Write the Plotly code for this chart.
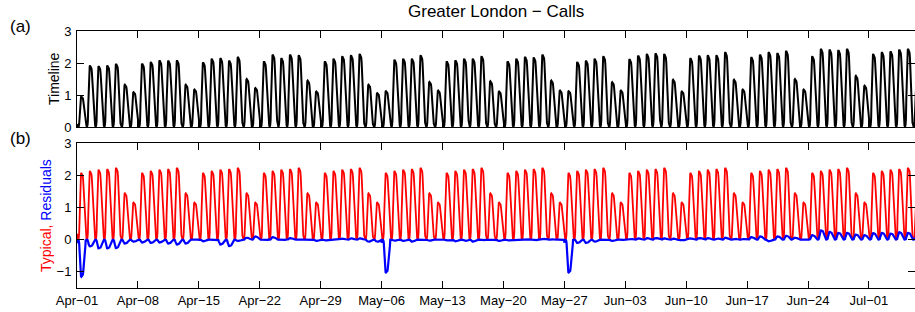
import numpy as np
import pandas as pd
import plotly.graph_objects as go

W, H = 915, 312

START = "2013-04-01"
X_END = "2013-07-06 07:00"

# fraction of the daily peak, hour 0..23
HOURLY_PROFILE = [0.09, 0.04, 0.02, 0.01, 0.01, 0.03, 0.10, 0.35, 0.65, 0.86, 0.96, 0.99,
                  1.00, 0.99, 0.99, 0.98, 0.95, 0.89, 0.80, 0.68, 0.55, 0.42, 0.30, 0.18]

# daily peak of the "Timeline" series, Apr-01 .. Jul-06
TIMELINE_PEAK = [
    0.95, 1.92, 1.90, 1.92, 1.97, 1.32, 1.09,
    1.98, 2.03, 2.08, 2.07, 2.08, 1.32, 1.17,
    2.02, 2.13, 2.15, 2.07, 2.19, 1.50, 1.22,
    2.05, 2.26, 2.15, 2.26, 2.24, 1.45, 1.11,
    2.05, 2.13, 2.21, 2.24, 2.28, 1.32, 1.06,
    1.12, 2.10, 2.13, 2.13, 2.24, 1.41, 1.14,
    2.05, 2.08, 2.13, 2.13, 2.21, 1.43, 1.11,
    2.05, 2.13, 2.19, 2.17, 2.26, 1.45, 1.14,
    1.12, 2.03, 2.07, 2.13, 2.21, 1.40, 1.14,
    2.12, 2.23, 2.28, 2.30, 2.28, 1.48, 1.11,
    2.15, 2.23, 2.24, 2.24, 2.34, 1.48, 1.17,
    2.18, 2.26, 2.34, 2.31, 2.38, 1.50, 1.17,
    2.21, 2.44, 2.42, 2.40, 2.44, 1.60, 1.29,
    2.28, 2.34, 2.36, 2.42, 2.44, 1.55,
]

# typical daily peak by weekday (Mon .. Sun)
TYPICAL_PEAK = [2.07, 2.13, 2.17, 2.19, 2.23, 1.44, 1.15]

# daily peak of the residuals, Apr-01 .. Jul-06
RESIDUAL_PEAK = [
    -1.15, -0.21, -0.27, -0.27, -0.26, -0.12, -0.06,
    -0.09, -0.10, -0.09, -0.12, -0.15, -0.12, 0.02,
    -0.05, 0.00, -0.15, -0.20, -0.04, 0.06, 0.10,
    -0.02, 0.08, -0.02, 0.05, 0.01, 0.01, -0.04,
    -0.02, 0.00, 0.03, 0.04, 0.04, -0.06, -0.06,
    -1.02, -0.03, -0.04, -0.06, 0.01, -0.03, -0.01,
    -0.02, -0.05, -0.04, -0.06, -0.02, -0.01, -0.04,
    -0.02, 0.00, 0.02, -0.02, 0.03, 0.01, -0.01,
    -1.02, -0.10, -0.10, -0.06, -0.02, -0.04, -0.01,
    0.03, 0.04, 0.05, 0.05, 0.04, 0.03, -0.02,
    0.04, 0.05, 0.05, 0.04, 0.06, 0.03, 0.02,
    0.08, 0.10, -0.05, 0.10, 0.12, 0.06, 0.02,
    0.14, 0.29, 0.24, 0.21, 0.21, 0.16, 0.14,
    0.20, 0.21, 0.19, 0.23, 0.21, 0.11,
]

TICK_DATES = ["2013-04-01", "2013-04-08", "2013-04-15", "2013-04-22", "2013-04-29",
              "2013-05-06", "2013-05-13", "2013-05-20", "2013-05-27", "2013-06-03",
              "2013-06-10", "2013-06-17", "2013-06-24", "2013-07-01"]
TICK_LABELS = ["Apr\u221201", "Apr\u221208", "Apr\u221215", "Apr\u221222", "Apr\u221229",
               "May\u221206", "May\u221213", "May\u221220", "May\u221227", "Jun\u221203",
               "Jun\u221210", "Jun\u221217", "Jun\u221224", "Jul\u221201"]

# ---- hourly series built from the daily values above ----
n_days = len(TIMELINE_PEAK)
x = pd.date_range(START, periods=n_days * 24, freq="h")
prof = np.tile(np.array(HOURLY_PROFILE), n_days)
day = np.repeat(np.arange(n_days), 24)
timeline = np.array(TIMELINE_PEAK)[day] * prof
typical = np.array(TYPICAL_PEAK)[day % 7] * prof
residual = np.array(RESIDUAL_PEAK)[day] * prof

FONT = "Liberation Sans, Arial, Helvetica, sans-serif"

fig = go.Figure()
fig.add_trace(go.Scatter(x=x, y=timeline, mode="lines", line=dict(color="black", width=2),
                         xaxis="x", yaxis="y", showlegend=False))
fig.add_trace(go.Scatter(x=x, y=typical, mode="lines", line=dict(color="#ff0000", width=1.8),
                         xaxis="x2", yaxis="y2", showlegend=False))
fig.add_trace(go.Scatter(x=x, y=residual, mode="lines", line=dict(color="#0000ff", width=2.2),
                         xaxis="x2", yaxis="y2", showlegend=False))

def px_x(p):
    return p / W

def px_y(p):
    return 1 - p / H

xdom = [px_x(77), 1.0]
common_x = dict(type="date", range=[START, X_END], tickmode="array", tickvals=TICK_DATES,
                ticks="inside", ticklen=7, tickcolor="black", showline=True, linecolor="black",
                linewidth=1, mirror="ticks", showgrid=False, zeroline=False, automargin=False,
                domain=xdom, tickfont=dict(family=FONT, size=13, color="black"))
common_y = dict(ticks="inside", ticklen=7, tickcolor="black", showline=True, linecolor="black",
                linewidth=1, mirror="ticks", showgrid=False, zeroline=False, automargin=False,
                tickfont=dict(family=FONT, size=13, color="black"), ticklabelstandoff=2)

fig.update_layout(
    width=W, height=H,
    margin=dict(l=0, r=0, t=0, b=0, autoexpand=False),
    paper_bgcolor="white", plot_bgcolor="white",
    xaxis=dict(common_x, anchor="y", showticklabels=False),
    yaxis=dict(common_y, anchor="x", domain=[px_y(127), px_y(31)], range=[0, 3],
               tickvals=[0, 1, 2, 3]),
    xaxis2=dict(common_x, anchor="y2", ticktext=TICK_LABELS),
    yaxis2=dict(common_y, anchor="x2", domain=[px_y(288), px_y(143)], range=[-1.5, 3],
                tickvals=[-1, 0, 1, 2, 3], ticktext=["\u22121", "0", "1", "2", "3"]),
    annotations=[
        dict(text="Greater London \u2212 Calls", x=px_x(496), y=px_y(12), xref="paper", yref="paper",
             showarrow=False, xanchor="center", yanchor="middle",
             font=dict(family=FONT, size=17, color="black")),
        dict(text="(a)", x=px_x(8), y=px_y(26), xref="paper", yref="paper",
             showarrow=False, xanchor="left", yanchor="middle",
             font=dict(family=FONT, size=17, color="black")),
        dict(text="(b)", x=px_x(8), y=px_y(138), xref="paper", yref="paper",
             showarrow=False, xanchor="left", yanchor="middle",
             font=dict(family=FONT, size=17, color="black")),
        dict(text="Timeline", x=px_x(54), y=px_y(79), xref="paper", yref="paper",
             showarrow=False, xanchor="center", yanchor="middle", textangle=-90,
             font=dict(family=FONT, size=14, color="black")),
        dict(text='<span style="color:#ff0000">Typical,</span> <span style="color:#0000ff">Residuals</span>',
             x=px_x(46), y=px_y(216), xref="paper", yref="paper",
             showarrow=False, xanchor="center", yanchor="middle", textangle=-90,
             font=dict(family=FONT, size=14, color="black")),
    ],
)

fig.write_html("out.html", config={"displayModeBar": False},
               post_script="document.body.style.margin='0';document.body.style.overflow='hidden';")
